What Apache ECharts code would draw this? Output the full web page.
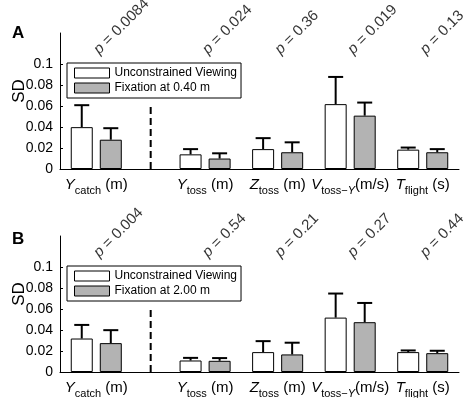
<!DOCTYPE html>
<html>
<head>
<meta charset="utf-8">
<script src="https://cdn.jsdelivr.net/npm/echarts@6/dist/echarts.min.js"></script>
<style>
html, body {margin: 0; padding: 0; background: #fff;}
#main {width: 466px; height: 398px;}
</style>
</head>
<body>
<div id="main"></div>
<script>
// axis layout: 12 slots, the 5 measures sit on these slots
var slotCount = 12;
var groupSlots = [1, 4, 6, 8, 10];
var groupLabels = [
	'{i|Y}{s|catch} {n|(m)}',
	'{i|Y}{s|toss} {n|(m)}',
	'{i|Z}{s|toss} {n|(m)}',
	'{i|V}{s|toss\u2212}{si|Y}{n|(m/s)}',
	'{i|T}{s|flight} {n|(s)}'
];
var yTicks = [0, 0.02, 0.04, 0.06, 0.08, 0.1];
var freeName = 'Unconstrained Viewing';

// panel A
var fixNameA = 'Fixation at 0.40 m';
var pA = ['0.0084', '0.024', '0.36', '0.019', '0.13'];
var freeA = [0.040, 0.014, 0.019, 0.062, 0.0185];
var freeErrA = [0.021, 0.005, 0.0105, 0.026, 0.002];
var fixA = [0.028, 0.010, 0.016, 0.051, 0.016];
var fixErrA = [0.011, 0.005, 0.0095, 0.0125, 0.003];

// panel B
var fixNameB = 'Fixation at 2.00 m';
var pB = ['0.004', '0.54', '0.21', '0.27', '0.44'];
var freeB = [0.032, 0.011, 0.019, 0.052, 0.019];
var freeErrB = [0.013, 0.0025, 0.0105, 0.023, 0.0016];
var fixB = [0.0276, 0.0107, 0.0168, 0.0476, 0.018];
var fixErrB = [0.0124, 0.0026, 0.0112, 0.0184, 0.0023];

var pLevel = 0.112;   // where the rotated p values start
var dashTop = 0.06;   // top of the dashed separator

var font = 'Liberation Sans';
var barW = 22;
var gapRatio = 0.32;
var barShift = (barW + barW * gapRatio) / 2;
var capHalf = 7.5;

var categories = [];
for (var k = 0; k < slotCount; k++) categories.push('');
groupSlots.forEach(function(s, i){ categories[s] = groupLabels[i]; });

function toSlots(arr){
	var out = [];
	for (var k = 0; k < slotCount; k++) out.push(null);
	groupSlots.forEach(function(s, i){ out[s] = arr[i]; });
	return out;
}

function errData(mean, err){
	return groupSlots.map(function(s, i){ return [s, mean[i], err[i]]; });
}

function errRender(shift){
	return function(params, api){
		var x = api.value(0), m = api.value(1), e = api.value(2);
		var lo = api.coord([x, m]);
		var hi = api.coord([x, m + e]);
		var cx = lo[0] + shift;
		var st = {stroke: '#000', lineWidth: 2};
		return {type: 'group', children: [
			{type: 'line', shape: {x1: cx, y1: lo[1], x2: cx, y2: hi[1]}, style: st},
			{type: 'line', shape: {x1: cx - capHalf, y1: hi[1], x2: cx + capHalf, y2: hi[1]}, style: st}
		]};
	};
}

function dashRender(params, api){
	var a = api.coord([groupSlots[0], 0]);
	var b = api.coord([groupSlots[1], dashTop]);
	var cx = (a[0] + b[0]) / 2;
	return {type: 'line', shape: {x1: cx, y1: a[1], x2: cx, y2: b[1]},
		style: {stroke: '#000', lineWidth: 2, lineDash: [7, 4]}};
}

var labelRich = {
	i: {fontFamily: font, fontSize: 15, fontStyle: 'italic', lineHeight: 22, verticalAlign: 'middle'},
	n: {fontFamily: font, fontSize: 15, lineHeight: 22, verticalAlign: 'middle'},
	s: {fontFamily: font, fontSize: 11, lineHeight: 11, verticalAlign: 'bottom'},
	si: {fontFamily: font, fontSize: 11, fontStyle: 'italic', lineHeight: 11, verticalAlign: 'bottom'}
};

var grids = [
	{left: 60, top: 33, width: 399, height: 136, outerBoundsMode: 'none', containLabel: false},
	{left: 60, top: 236, width: 399, height: 136, outerBoundsMode: 'none', containLabel: false}
];

var xAxes = [], yAxes = [], series = [], legends = [];
var panels = [
	{fixName: fixNameA, p: pA, free: freeA, freeErr: freeErrA, fix: fixA, fixErr: fixErrA, legendTop: 63},
	{fixName: fixNameB, p: pB, free: freeB, freeErr: freeErrB, fix: fixB, fixErr: fixErrB, legendTop: 266}
];

panels.forEach(function(pn, g){
	xAxes.push({
		gridIndex: g,
		type: 'category',
		data: categories,
		boundaryGap: false,
		axisLine: {lineStyle: {color: '#000', width: 1}},
		axisTick: {show: false},
		axisLabel: {interval: 0, margin: 5, color: '#000', fontFamily: font, fontSize: 15, rich: labelRich},
		splitLine: {show: false}
	});
	yAxes.push({
		gridIndex: g,
		type: 'value',
		min: 0,
		max: 0.13,
		name: 'SD',
		nameLocation: 'middle',
		nameGap: 32,
		nameMoveOverlap: false,
		nameTextStyle: {fontFamily: font, fontSize: 17, color: '#000', padding: [0, 0, 0, 20]},
		axisLine: {show: true, lineStyle: {color: '#000', width: 1}},
		axisTick: {show: true, inside: true, length: 3, customValues: yTicks, lineStyle: {color: '#000'}},
		axisLabel: {customValues: yTicks, margin: 7, color: '#000', fontFamily: font, fontSize: 14,
			formatter: function(v){ return String(+v.toFixed(2)); }},
		splitLine: {show: false}
	});
	series.push({
		name: freeName, type: 'bar', xAxisIndex: g, yAxisIndex: g,
		data: toSlots(pn.free), barWidth: barW, barGap: (gapRatio * 100) + '%',
		itemStyle: {color: '#fff', borderColor: '#000', borderWidth: 1}
	});
	series.push({
		name: pn.fixName, type: 'bar', xAxisIndex: g, yAxisIndex: g,
		data: toSlots(pn.fix), barWidth: barW, barGap: (gapRatio * 100) + '%',
		itemStyle: {color: '#b3b3b3', borderColor: '#000', borderWidth: 1}
	});
	series.push({
		type: 'custom', xAxisIndex: g, yAxisIndex: g, z: 5,
		data: errData(pn.free, pn.freeErr), renderItem: errRender(-barShift)
	});
	series.push({
		type: 'custom', xAxisIndex: g, yAxisIndex: g, z: 5,
		data: errData(pn.fix, pn.fixErr), renderItem: errRender(barShift)
	});
	series.push({
		type: 'custom', xAxisIndex: g, yAxisIndex: g, z: 1,
		data: [[0]], renderItem: dashRender
	});
	series.push({
		type: 'scatter', xAxisIndex: g, yAxisIndex: g, symbolSize: 1,
		itemStyle: {color: 'transparent'},
		silent: true,
		data: groupSlots.map(function(s){ return [s, pLevel]; }),
		label: {
			show: true, position: 'inside', rotate: 45, align: 'left', verticalAlign: 'middle',
			color: '#000', fontFamily: font, fontSize: 15,
			rich: {p: {fontFamily: font, fontSize: 15, fontStyle: 'italic'}},
			formatter: (function(pv){ return function(params){ return '{p|p} = ' + pv[params.dataIndex]; }; })(pn.p)
		}
	});
	legends.push({
		orient: 'vertical', left: 67, top: pn.legendTop, z: 10,
		backgroundColor: '#fff', borderColor: '#000', borderWidth: 1, borderRadius: 0,
		padding: [4, 4, 4, 7], itemWidth: 35, itemHeight: 10, itemGap: 3,
		icon: 'rect',
		textStyle: {fontFamily: font, fontSize: 12, color: '#000'},
		selectedMode: false,
		data: [
			{name: freeName, itemStyle: {color: '#fff', borderColor: '#000', borderWidth: 1}},
			{name: pn.fixName, itemStyle: {color: '#b3b3b3', borderColor: '#000', borderWidth: 1}}
		]
	});
});

var chart = echarts.init(document.getElementById('main'), null, {renderer: 'canvas'});
chart.setOption({
	animation: false,
	backgroundColor: '#fff',
	title: [
		{text: 'A', left: 12, top: 25, padding: 0, textStyle: {fontFamily: font, fontSize: 17, fontWeight: 'bold', color: '#000'}},
		{text: 'B', left: 12, top: 231, padding: 0, textStyle: {fontFamily: font, fontSize: 17, fontWeight: 'bold', color: '#000'}}
	],
	legend: legends,
	grid: grids,
	xAxis: xAxes,
	yAxis: yAxes,
	series: series
});
</script>
</body>
</html>
